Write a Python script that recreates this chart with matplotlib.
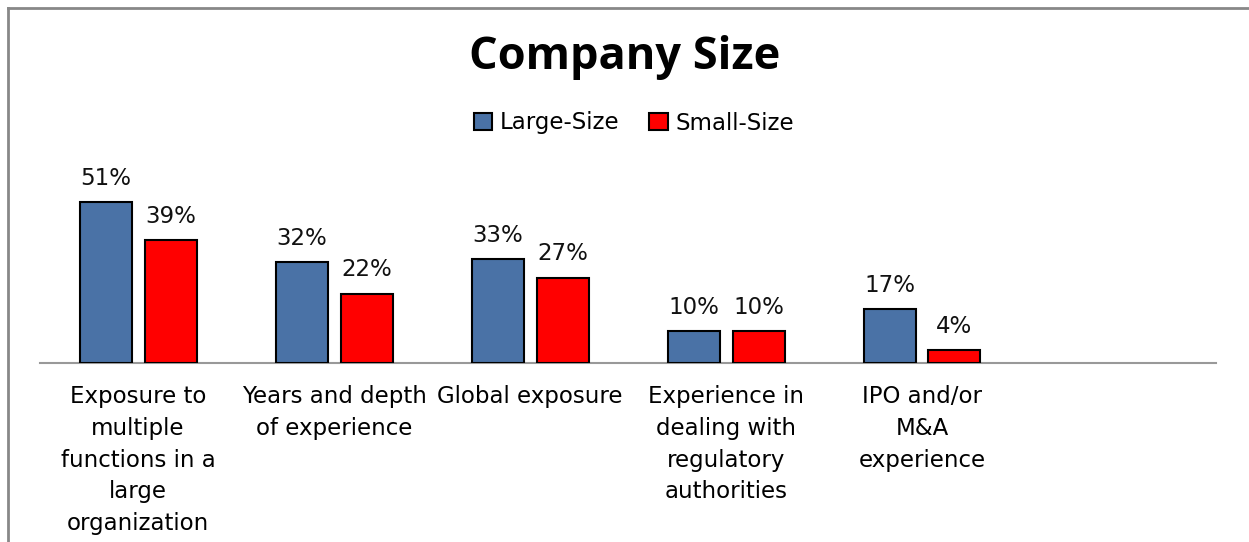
import matplotlib.pyplot as plt
import numpy as np

categories = ['Exposure to\nmultiple\nfunctions in a\nlarge\norganization',
              'Years and depth\nof experience',
              'Global exposure',
              'Experience in\ndealing with\nregulatory\nauthorities',
              'IPO and/or\nM&A\nexperience',
              '']
large = [51, 32, 33, 10, 17, None]
small = [39, 22, 27, 10, 4, None]
series_names = ['Large-Size', 'Small-Size']
colors = ['#4A72A6', '#FF0000']

plt.rcParams['font.family'] = ['DejaVu Sans']

W, H = 1249, 542
fig = plt.figure(figsize=(W / 100, H / 100), dpi=100)

# axes placed in pixel coords: x 40..1216, baseline y=363, 60% at ~174
ax = fig.add_axes([40 / W, (H - 363) / H, 1176 / W, 189.4 / H])
ax.set_xlim(0, 6)
ax.set_ylim(0, 60)

x = np.arange(len(categories)) + 0.5
bw = 52 / 196
off = 32.5 / 196
for vals, c, dx, name in [(large, colors[0], -off, series_names[0]),
                          (small, colors[1], off, series_names[1])]:
    xs = [xi + dx for xi, v in zip(x, vals) if v is not None]
    vs = [v for v in vals if v is not None]
    ax.bar(xs, vs, width=bw, color=c, edgecolor='black', linewidth=1.5, label=name, zorder=3)
    for xi, v in zip(xs, vs):
        ax.text(xi, v + 3.9, f'{v}%', ha='center', va='bottom', fontsize=16.5, color='#111111')

for s in ['top', 'right', 'left']:
    ax.spines[s].set_visible(False)
ax.spines['bottom'].set_color('#999999')
ax.spines['bottom'].set_linewidth(1.5)
ax.set_yticks([])
ax.set_xticks(x)
ax.set_xticklabels(categories, fontsize=16.5, linespacing=1.48, va='top')
ax.tick_params(axis='x', length=0, pad=16)

fig.text(625 / W, 1 - 57 / H, 'Company Size', ha='center', va='center', fontsize=32.5,
         fontweight='bold', family=['Open Sans', 'DejaVu Sans'])

fig.legend(loc='center', bbox_to_anchor=(634 / W, 1 - 123 / H), ncol=2, frameon=False,
           fontsize=16.5, handlelength=0.8, handleheight=0.8, handletextpad=0.35, columnspacing=1.3)

# outer chart border (top and left visible)
fig.add_artist(plt.Line2D([7.5 / W, 1], [1 - 7.5 / H, 1 - 7.5 / H], color='#888888', lw=2, transform=fig.transFigure))
fig.add_artist(plt.Line2D([7.5 / W, 7.5 / W], [0, 1 - 7.5 / H], color='#888888', lw=2, transform=fig.transFigure))

fig.savefig('out.png', dpi=100)
